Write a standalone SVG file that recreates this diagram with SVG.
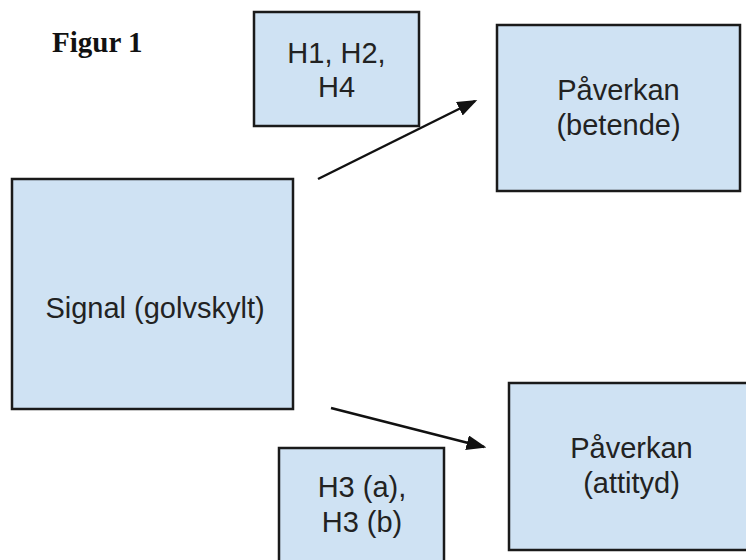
<svg xmlns="http://www.w3.org/2000/svg" width="746" height="560" viewBox="0 0 746 560">
<defs>
<style>
.box{fill:#cfe2f3;stroke:#1a1a1a;stroke-width:2.5}
.t{font-family:"Liberation Sans",Arial,sans-serif;font-size:29px;fill:#222;text-anchor:middle}
.c{stroke:#111;stroke-width:2.5;fill:none}
</style>
<marker id="ah" markerWidth="8" markerHeight="6" refX="7" refY="3" orient="auto" markerUnits="strokeWidth">
<path d="M0,0 L8,3 L0,6 z" fill="#111"/>
</marker>
</defs>
<rect width="746" height="560" fill="#fff"/>
<text x="52" y="52" font-family="'Liberation Serif','Times New Roman',serif" font-weight="bold" font-size="29" fill="#111">Figur 1</text>
<g id="h1h2h4">
<rect class="box" x="254" y="12" width="165" height="114"/>
<text class="t" x="336.5" y="63">H1, H2,</text>
<text class="t" x="336.5" y="97">H4</text>
</g>
<g id="betende">
<rect class="box" x="497" y="25" width="243" height="166"/>
<text class="t" x="618.5" y="100">Påverkan</text>
<text class="t" x="618.5" y="135">(betende)</text>
</g>
<g id="signal">
<rect class="box" x="12" y="179" width="281" height="230"/>
<text class="t" x="155" y="318">Signal (golvskylt)</text>
</g>
<g id="attityd">
<rect class="box" x="509" y="383" width="250" height="167"/>
<text class="t" x="631.5" y="458">Påverkan</text>
<text class="t" x="631.5" y="493">(attityd)</text>
</g>
<g id="h3">
<rect class="box" x="279" y="448" width="165" height="130"/>
<text class="t" x="362" y="497">H3 (a),</text>
<text class="t" x="362" y="532">H3 (b)</text>
</g>
<g id="connectors">
<line class="c" x1="318" y1="179" x2="475" y2="101" marker-end="url(#ah)"/>
<line class="c" x1="331" y1="408" x2="484" y2="447" marker-end="url(#ah)"/>
</g>
</svg>
